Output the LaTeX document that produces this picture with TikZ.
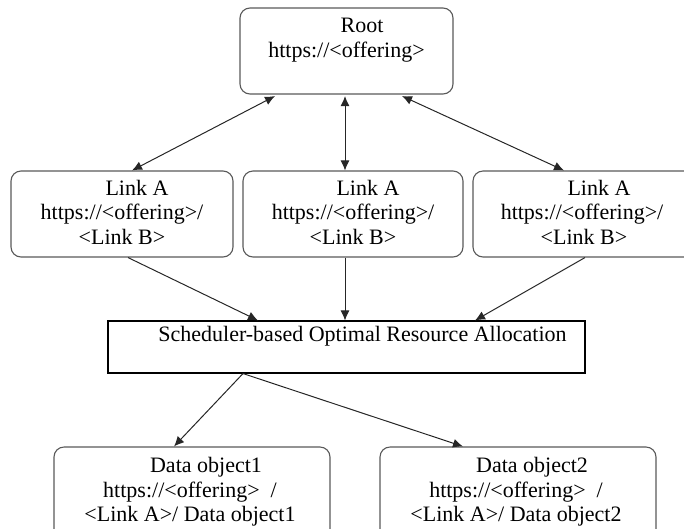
\documentclass[tikz,border=0pt]{standalone}
\usepackage{fontspec}
\setmainfont{Liberation Serif}
\usetikzlibrary{arrows.meta}
\begin{document}
\begin{tikzpicture}[x=1pt,y=-1pt,
  rbox/.style={draw=black!65, line width=1.1pt, rounded corners=10pt, inner sep=0pt, minimum width=#1},
  sbox/.style={draw=black, line width=1.1pt, inner sep=0pt, minimum width=#1},
  txt/.style={font=\fontsize{22}{24}\selectfont, anchor=base, inner sep=0pt},
  conn/.style={draw=black!85, line width=1pt, -{Latex[length=10pt,width=9pt]}},
  bconn/.style={draw=black!85, line width=1pt, {Latex[length=10pt,width=9pt]}-{Latex[length=10pt,width=9pt]}}
]
\clip (0,0) rectangle (684,528);
% boxes
\node[rbox=213pt, minimum height=86pt] (root) at (346.5,51) {};
\node[rbox=222pt, minimum height=86pt] (l1) at (122,214) {};
\node[rbox=220pt, minimum height=86pt] (l2) at (353,214) {};
\node[rbox=222pt, minimum height=86pt] (l3) at (584,214) {};
\node[sbox=477pt, minimum height=52pt] (sched) at (346.5,347) {};
\node[rbox=276pt, minimum height=100pt] (d1) at (192,497) {};
\node[rbox=276pt, minimum height=100pt] (d2) at (518,497) {};
% texts
\node[txt] (rootA) at (362,32) {Root};
\node[txt] (rootB) at (346.5,57) {https://<offering>};
\node[txt] (l1A) at (137,195) {Link A};
\node[txt] (l1B) at (122,219.5) {https://<offering>/};
\node[txt] (l1C) at (122,244) {<Link B>};
\node[txt] (l2A) at (368,195) {Link A};
\node[txt] (l2B) at (353,219.5) {https://<offering>/};
\node[txt] (l2C) at (353,244) {<Link B>};
\node[txt] (l3A) at (599,195) {Link A};
\node[txt] (l3B) at (582,219.5) {https://<offering>/};
\node[txt] (l3C) at (584,244) {<Link B>};
\node[txt] (schedT) at (362.5,341) {Scheduler-based Optimal Resource Allocation};
\node[txt] (d1A) at (206,472) {Data object1};
\node[txt] (d1B) at (190,497) {https://<offering>\ \ /};
\node[txt] (d1C) at (190,521.5) {<Link A>/ Data object1};
\node[txt] (d2A) at (532,472) {Data object2};
\node[txt] (d2B) at (516,497) {https://<offering>\ \ /};
\node[txt] (d2C) at (516,521.5) {<Link A>/ Data object2};
% connectors
\draw[bconn] ([xshift=-71.5pt,yshift=-1.5pt]root.south) -- ([xshift=10pt]l1.north);
\draw[bconn] ([xshift=-1.5pt,yshift=-1.5pt]root.south) -- ([xshift=-8pt]l2.north);
\draw[bconn] ([xshift=55.5pt,yshift=-1.5pt]root.south) -- ([xshift=-20pt]l3.north);
\draw[conn] ([xshift=6pt]l1.south) -- ([xshift=-88.5pt]sched.north);
\draw[conn] ([xshift=-8pt]l2.south) -- ([xshift=-1.5pt]sched.north);
\draw[conn] ([xshift=1pt]l3.south) -- ([xshift=128.5pt]sched.north);
\draw[conn] ([xshift=-103.5pt]sched.south) -- ([xshift=-18pt]d1.north);
\draw[conn] ([xshift=-103.5pt]sched.south) -- ([xshift=-55pt]d2.north);
\end{tikzpicture}
\end{document}
